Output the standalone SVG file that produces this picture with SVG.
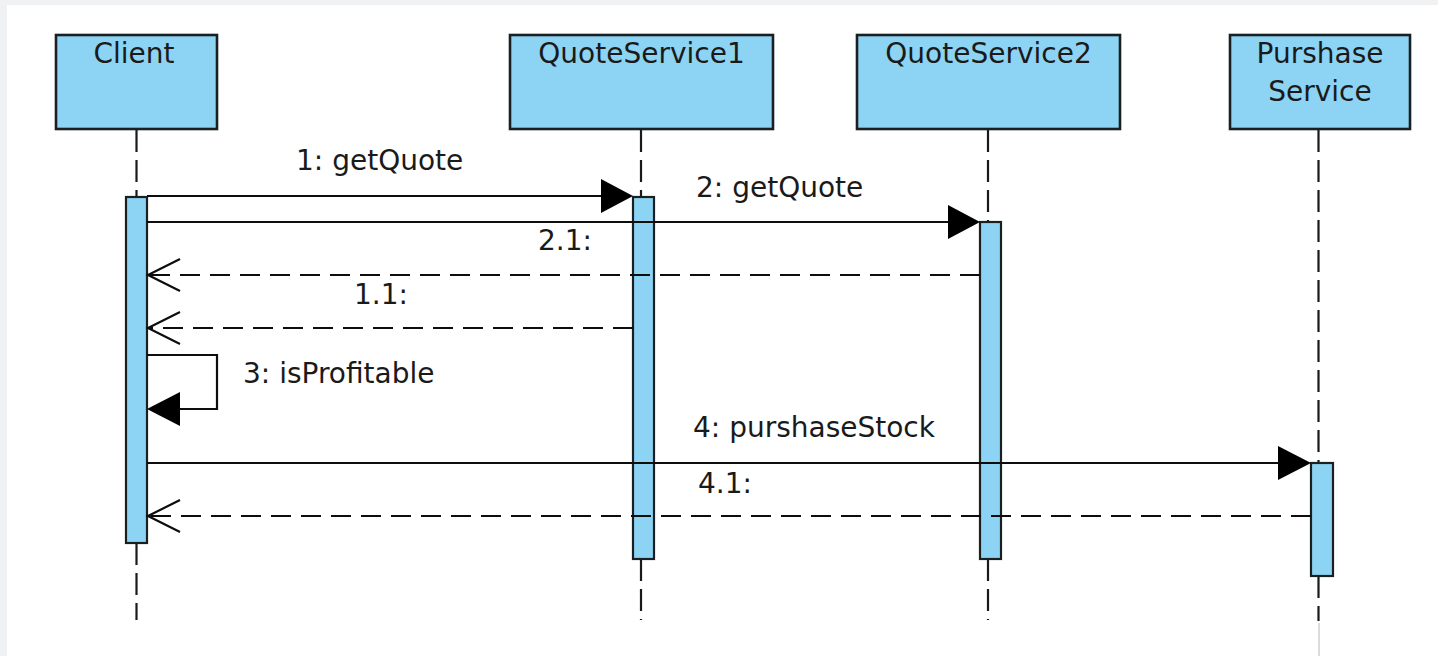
<svg xmlns="http://www.w3.org/2000/svg" width="1438" height="656" viewBox="0 0 1438 656">
  <defs>
    <style>
      .frame { fill: #eff1f3; }
      .page { fill: #ffffff; }
      .box { fill: #8dd4f4; stroke: #1a1f22; stroke-width: 2.6; }
      .act { fill: #8dd4f4; stroke: #1a1f22; stroke-width: 2.2; }
      .life { stroke: #1a1a1a; stroke-width: 2.2; stroke-dasharray: 22 8; fill: none; }
      .msg { stroke: #0d0d0d; stroke-width: 2.2; fill: none; }
      .ret { stroke: #0d0d0d; stroke-width: 2.2; fill: none; stroke-dasharray: 20 10; }
      .open { stroke: #0d0d0d; stroke-width: 2.2; fill: none; }
      .head { fill: #000; }
      .lbl { font-family: "DejaVu Sans", "Liberation Sans", sans-serif; font-size: 28px; fill: #1a1a1a; }
      .name { font-family: "DejaVu Sans", "Liberation Sans", sans-serif; font-size: 28px; fill: #1a1a1a; text-anchor: middle; }
    </style>
  </defs>
  <rect class="frame" x="0" y="0" width="1438" height="656"/>
  <rect class="page" x="7" y="5" width="1431" height="651"/>

  <g id="lifelines">
    <line class="life" x1="136.5" y1="130" x2="136.5" y2="197"/>
    <line class="life" x1="136.5" y1="543" x2="136.5" y2="620"/>
    <line class="life" x1="641" y1="130" x2="641" y2="197"/>
    <line class="life" x1="641" y1="559" x2="641" y2="620"/>
    <line class="life" x1="988" y1="130" x2="988" y2="222"/>
    <line class="life" x1="988" y1="559" x2="988" y2="620"/>
    <line class="life" x1="1318.5" y1="130" x2="1318.5" y2="463"/>
    <line class="life" x1="1318.5" y1="576" x2="1318.5" y2="621"/>
    <line x1="1319" y1="623" x2="1319" y2="656" stroke="#cfcfcf" stroke-width="1.5"/>
  </g>

  <g id="client">
    <rect class="box" x="56" y="35" width="161" height="94"/>
    <text class="name" x="134" y="63">Client</text>
    <rect class="act" x="126" y="197" width="21" height="346"/>
  </g>
  <g id="quoteservice1">
    <rect class="box" x="510" y="35" width="263" height="94"/>
    <text class="name" x="641.5" y="63">QuoteService1</text>
    <rect class="act" x="633" y="197" width="21" height="362"/>
  </g>
  <g id="quoteservice2">
    <rect class="box" x="857" y="35" width="263" height="94"/>
    <text class="name" x="988.5" y="63">QuoteService2</text>
    <rect class="act" x="980" y="222" width="21" height="337"/>
  </g>
  <g id="purshaseservice">
    <rect class="box" x="1230" y="35" width="180" height="94"/>
    <text class="name" x="1320" y="63">Purshase</text>
    <text class="name" x="1320" y="101">Service</text>
    <rect class="act" x="1311" y="463" width="22" height="113"/>
  </g>

  <g id="connectors">
    <!-- 1: getQuote -->
    <line class="msg" x1="147" y1="196" x2="602" y2="196"/>
    <polygon class="head" points="601,179 633,196 601,213"/>
    <!-- 2: getQuote -->
    <line class="msg" x1="147" y1="222" x2="949" y2="222"/>
    <polygon class="head" points="948,205 980,222 948,239"/>
    <!-- 2.1 return -->
    <line class="ret" x1="980" y1="275" x2="148" y2="275"/>
    <polyline class="open" points="180,259 148,275 180,291"/>
    <!-- 1.1 return -->
    <line class="ret" x1="633" y1="328" x2="148" y2="328"/>
    <polyline class="open" points="180,312 148,328 180,344"/>
    <!-- 3: isProfitable (self) -->
    <polyline class="msg" points="147,355 217,355 217,409 180,409"/>
    <polygon class="head" points="180,392 147,409 180,426"/>
    <!-- 4: purshaseStock -->
    <line class="msg" x1="147" y1="463" x2="1279" y2="463"/>
    <polygon class="head" points="1278,446 1311,463 1278,480"/>
    <!-- 4.1 return -->
    <line class="ret" x1="1311" y1="516" x2="148" y2="516"/>
    <polyline class="open" points="180,500 148,516 180,532"/>
  </g>

  <g id="labels">
    <text class="lbl" x="296" y="170">1: getQuote</text>
    <text class="lbl" x="696" y="197">2: getQuote</text>
    <text class="lbl" x="538" y="250">2.1:</text>
    <text class="lbl" x="354" y="304">1.1:</text>
    <text class="lbl" x="243" y="383">3: isProfitable</text>
    <text class="lbl" x="693" y="437">4: purshaseStock</text>
    <text class="lbl" x="698" y="493">4.1:</text>
  </g>
</svg>
